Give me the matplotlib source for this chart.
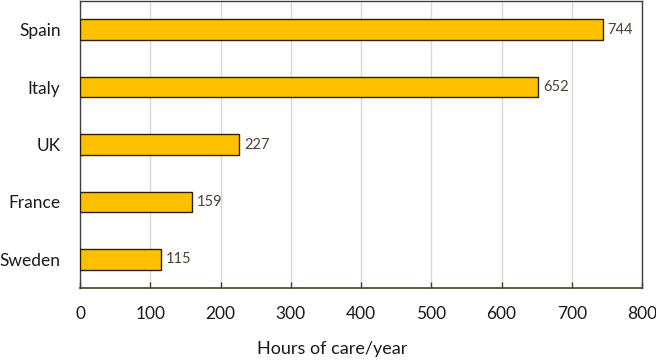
import matplotlib.pyplot as plt

plt.rcParams['font.family'] = ['Lato', 'DejaVu Sans']

countries = ['Sweden', 'France', 'UK', 'Italy', 'Spain']
hours = [115, 159, 227, 652, 744]
x_ticks = [0, 100, 200, 300, 400, 500, 600, 700, 800]

fig = plt.figure(figsize=(6.56, 3.61), dpi=100)
ax = fig.add_axes([80 / 656, 1 - 288 / 361, 562 / 656, 287 / 361])

bars = ax.barh(countries, hours, height=0.36, color='#FFC000',
               edgecolor='#2b2100', linewidth=1.0, zorder=3)
for b, v in zip(bars, hours):
    ax.text(b.get_width() + 7, b.get_y() + b.get_height() / 2, str(v),
            va='center', ha='left', fontsize=10.5, color='#4d4030')

ax.set_xlim(0, 800)
ax.set_ylim(-0.5, 4.5)
ax.set_xticks(x_ticks)
ax.grid(axis='x', color='#d9d9d9', linewidth=1.0, zorder=0)
ax.tick_params(axis='x', direction='in', length=4, width=1, color='#4a4020',
               labelsize=12.5, pad=13, labelcolor='#1a1a1a')
ax.tick_params(axis='y', length=0, labelsize=12.5, pad=14, labelcolor='#1a1a1a')

for side in ['left', 'right', 'top']:
    ax.spines[side].set_color('#404040')
    ax.spines[side].set_linewidth(1.0)
ax.spines['bottom'].set_color('#4a4020')
ax.spines['bottom'].set_linewidth(1.2)

ax.set_xlabel('Hours of care/year', fontsize=13, color='#1a1a1a')
ax.xaxis.set_label_coords(252 / 562, -53 / 287)

fig.savefig('out.png', dpi=100)
